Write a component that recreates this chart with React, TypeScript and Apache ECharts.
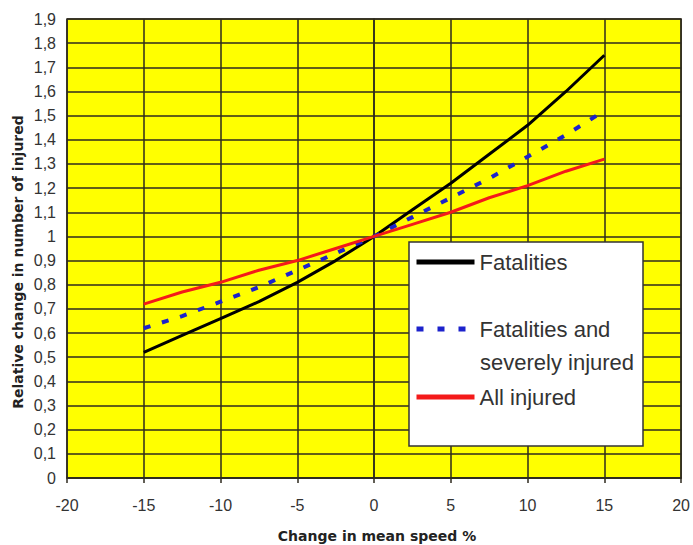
import React, { useEffect, useRef } from "react";
import * as echarts from "echarts";

const speedChange = [-15, -12.5, -10, -7.5, -5, -2.5, 0, 2.5, 5, 7.5, 10, 12.5, 15];
const fatalities = [0.52, 0.59, 0.66, 0.73, 0.81, 0.9, 1.0, 1.11, 1.22, 1.34, 1.46, 1.6, 1.75];
const severe = [0.62, 0.67, 0.73, 0.79, 0.86, 0.93, 1.0, 1.08, 1.16, 1.24, 1.33, 1.42, 1.52];
const allInjured = [0.72, 0.77, 0.81, 0.86, 0.9, 0.95, 1.0, 1.05, 1.1, 1.16, 1.21, 1.27, 1.32];
const seriesNames = ["Fatalities", "Fatalities and severely injured", "All injured"];
const xTitle = "Change in mean speed %";
const yTitle = "Relative change in number of injured";

const pairs = (ys: number[]) => speedChange.map((x, i) => [x, ys[i]]);

export default function App() {
  const ref = useRef<HTMLDivElement>(null);
  useEffect(() => {
    if (!ref.current) return;
    const chart = echarts.init(ref.current, null, { renderer: "svg" });
    const gridColor = "#2e2a1e";
    const labelFont = "'Liberation Sans', Arial, sans-serif";
    const titleFont = "'DejaVu Sans', Verdana, sans-serif";
    const legendBase = {
      orient: "vertical",
      left: 414,
      itemWidth: 58,
      itemHeight: 14,
      itemGap: 5,
      z: 20,
      padding: 0,
      lineStyle: { width: 5 },
      itemStyle: { color: "rgba(0,0,0,0)", borderColor: "rgba(0,0,0,0)", borderWidth: 0, opacity: 0 },
      textStyle: { fontFamily: labelFont, fontSize: 22, color: "#333" },
    };
    chart.setOption({
      animation: false,
      backgroundColor: "#ffffff",
      grid: { left: 67, top: 19, right: 8, bottom: 67, show: true, backgroundColor: "#ffff00", borderColor: gridColor, borderWidth: 1.5 },
      xAxis: {
        type: "value",
        min: -20,
        max: 20,
        interval: 5,
        axisLine: { show: true, lineStyle: { color: gridColor, width: 1.5 } },
        axisTick: { show: true, length: 5, lineStyle: { color: gridColor, width: 1.5 } },
        axisLabel: { fontFamily: labelFont, fontSize: 16, color: "#333", margin: 19 },
        splitLine: { show: true, lineStyle: { color: gridColor, width: 1.5 } },
      },
      yAxis: {
        type: "value",
        min: 0,
        max: 1.9,
        interval: 0.1,
        axisLine: { show: true, lineStyle: { color: gridColor, width: 1.5 } },
        axisTick: { show: false },
        axisLabel: {
          fontFamily: labelFont,
          fontSize: 16,
          color: "#333",
          margin: 11,
          formatter: (v: number) => String(Number(v.toFixed(1))).replace(".", ","),
        },
        splitLine: { show: true, lineStyle: { color: gridColor, width: 1.5 } },
      },
      legend: [
        { ...legendBase, top: 251, data: [seriesNames[0]] },
        {
          ...legendBase,
          top: 318,
          data: [seriesNames[1]],
          lineStyle: { width: 5, type: [7, 14] },
          formatter: () => "Fatalities and",
        },
        { ...legendBase, top: 386, data: [seriesNames[2]] },
      ],
      graphic: [
        {
          type: "rect",
          z: 15,
          shape: { x: 409, y: 242, width: 234, height: 204 },
          style: { fill: "#ffffff", stroke: "#333", lineWidth: 1.5 },
        },
        {
          type: "text",
          z: 20,
          x: 480,
          y: 362,
          style: { text: "severely injured", font: `22px ${labelFont}`, fill: "#333", verticalAlign: "middle" },
        },
        {
          type: "text",
          z: 20,
          x: 377,
          y: 536,
          style: { text: xTitle, font: `bold 14px ${titleFont}`, fill: "#222", align: "center", verticalAlign: "middle" },
        },
        {
          type: "text",
          z: 20,
          x: 18,
          y: 262,
          rotation: Math.PI / 2,
          style: { text: yTitle, font: `bold 14px ${titleFont}`, fill: "#222", align: "center", verticalAlign: "middle" },
        },
      ],
      series: [
        {
          name: seriesNames[0],
          type: "line",
          data: pairs(fatalities),
          symbol: "none",
          lineStyle: { color: "#000000", width: 3 },
          itemStyle: { color: "#000000" },
          z: 3,
        },
        {
          name: seriesNames[1],
          type: "line",
          data: pairs(severe),
          symbol: "none",
          lineStyle: { color: "#1c22cc", width: 4, type: [7, 12] },
          itemStyle: { color: "#1c22cc" },
          z: 4,
        },
        {
          name: seriesNames[2],
          type: "line",
          data: pairs(allInjured),
          symbol: "none",
          lineStyle: { color: "#f41a1a", width: 3 },
          itemStyle: { color: "#f41a1a" },
          z: 5,
        },
      ],
    });
    return () => chart.dispose();
  }, []);
  return <div ref={ref} style={{ width: 693, height: 545, position: "absolute", left: 0, top: 0 }} />;
}
